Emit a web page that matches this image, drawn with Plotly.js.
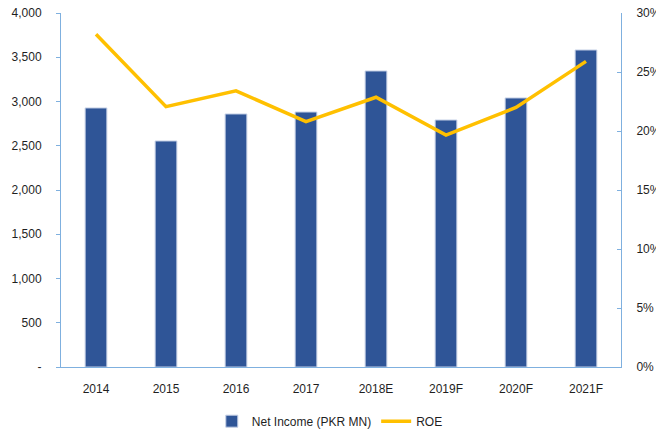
<!DOCTYPE html>
<html>
<head>
<meta charset="utf-8">
<script src="https://cdn.plot.ly/plotly-3.0.1.min.js"></script>
<style>html,body{margin:0;padding:0;background:#fff;}#chart{width:656px;height:432px;}</style>
</head>
<body>
<div id="chart"></div>
<script>
const categories = ["2014", "2015", "2016", "2017", "2018E", "2019F", "2020F", "2021F"];
const netIncome = [2927, 2554, 2859, 2881, 3345, 2791, 3040, 3582];
const roe = [0.282, 0.2206, 0.234, 0.208, 0.2286, 0.1966, 0.220, 0.259];
const leftTickVals = [0, 500, 1000, 1500, 2000, 2500, 3000, 3500, 4000];
const leftTickText = ["-", "500", "1,000", "1,500", "2,000", "2,500", "3,000", "3,500", "4,000"];
const rightTickVals = [0, 0.05, 0.10, 0.15, 0.20, 0.25, 0.30];
const rightTickText = ["0%", "5%", "10%", "15%", "20%", "25%", "30%"];

const font = {family: "Liberation Sans, Arial, sans-serif", size: 12, color: "#1f1f1f"};
const axisColor = "#7fb0df";

const traces = [
  {
    type: "bar", x: categories, y: netIncome, name: "Net Income (PKR MN)",
    marker: {color: "#2F5597", line: {color: "#c5d0e6", width: 1}},
    yaxis: "y"
  },
  {
    type: "scatter", mode: "lines", x: categories, y: roe, name: "ROE",
    line: {color: "#FFC000", width: 3.5},
    yaxis: "y2"
  }
];

const layout = {
  width: 656, height: 432,
  margin: {l: 61, r: 35, t: 13, b: 65, autoexpand: false},
  paper_bgcolor: "#fff", plot_bgcolor: "#fff",
  font: font,
  bargap: 0.69,
  showlegend: true,
  legend: {orientation: "h", x: 0.48, xanchor: "center", y: -0.153, yanchor: "middle",
           font: font, itemwidth: 30, traceorder: "normal"},
  xaxis: {
    type: "category", showgrid: false, showline: true, linecolor: axisColor, linewidth: 1,
    ticks: "", ticklabelstandoff: 11, tickfont: font, fixedrange: true
  },
  yaxis: {
    range: [0, 4000], tickvals: leftTickVals, ticktext: leftTickText,
    showgrid: false, zeroline: false, showline: true, linecolor: axisColor, linewidth: 1,
    ticks: "outside", ticklen: 4, tickcolor: axisColor, tickfont: font, ticklabelstandoff: 12
  },
  yaxis2: {
    range: [0, 0.30], tickvals: rightTickVals, ticktext: rightTickText,
    overlaying: "y", side: "right",
    showgrid: false, zeroline: false, showline: true, linecolor: axisColor, linewidth: 1,
    ticks: "inside", ticklen: 4, tickcolor: axisColor, tickfont: font, ticklabelstandoff: 12
  }
};

Plotly.newPlot("chart", traces, layout, {displayModeBar: false, staticPlot: true});
</script>
</body>
</html>
